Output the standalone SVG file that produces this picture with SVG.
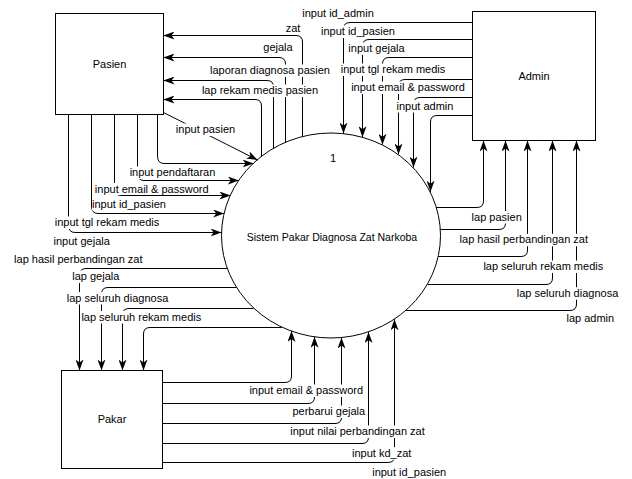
<svg xmlns="http://www.w3.org/2000/svg" width="632" height="479" viewBox="0 0 632 479">
<defs>
<style>
.node{fill:#fff;stroke:#000;stroke-width:1}
.edge{fill:none;stroke:#000;stroke-width:1;marker-end:url(#arr)}
.t{font-family:"Liberation Sans",Arial,Helvetica,sans-serif;font-size:11px;fill:#000;text-anchor:middle}
.bg{fill:#fff}
</style>
<marker id="arr" markerUnits="userSpaceOnUse" viewBox="0 0 11 8" refX="11" refY="4" markerWidth="11" markerHeight="8" orient="auto">
<path d="M0,0 L11,4 L0,8 L3,4 Z" fill="#000"/>
</marker>
</defs>
<rect width="632" height="479" fill="#fff"/>

<g id="pasien">
<rect class="node" x="55.5" y="13.5" width="108" height="101"/>
<text class="t" x="109.5" y="67.5">Pasien</text>
</g>
<g id="admin">
<rect class="node" x="472.5" y="11.5" width="123" height="129"/>
<text class="t" x="534" y="79.5">Admin</text>
</g>
<g id="pakar">
<rect class="node" x="61.5" y="370.5" width="101" height="98"/>
<text class="t" x="112" y="423">Pakar</text>
</g>
<g id="sistem">
<ellipse class="node" cx="331" cy="235.5" rx="109.5" ry="102.5"/>
<text class="t" x="333" y="162">1</text>
<text class="t" x="332" y="241" style="font-size:10.5px">Sistem Pakar Diagnosa Zat Narkoba</text>
</g>

<g id="connectors">
<path class="edge" d="M302.5,136.7 V42 Q302.5,35.5 296,35.5 H163.5"/>
<path class="edge" d="M285.5,142.5 V64 Q285.5,57.5 279,57.5 H163.5"/>
<path class="edge" d="M273.5,148.6 V87 Q273.5,80.5 267,80.5 H163.5"/>
<path class="edge" d="M261.5,156.7 V106 Q261.5,99.5 255,99.5 H163.5"/>
<path class="edge" d="M163.5,112.5 L257.6,160"/>
<path class="edge" d="M157.5,114.5 V156 Q157.5,163.5 164,163.5 H253.6"/>
<path class="edge" d="M137.5,114.5 V173 Q137.5,180.5 144,180.5 H238.9"/>
<path class="edge" d="M114.5,114.5 V188 Q114.5,195.5 121,195.5 H230.4"/>
<path class="edge" d="M91.5,114.5 V206 Q91.5,213.5 98,213.5 H224.2"/>
<path class="edge" d="M68.5,114.5 V225 Q68.5,232.5 75,232.5 H221.6"/>
<path class="edge" d="M227.2,268.5 H86 Q79.5,268.5 79.5,275 V370.5"/>
<path class="edge" d="M236.3,287.5 H108 Q101.5,287.5 101.5,294 V370.5"/>
<path class="edge" d="M253.6,308.5 H129 Q122.5,308.5 122.5,315 V370.5"/>
<path class="edge" d="M281.6,327.5 H150 Q143.5,327.5 143.5,334 V370.5"/>
<path class="edge" d="M162.5,382.5 H285 Q291.5,382.5 291.5,376 V330.9"/>
<path class="edge" d="M162.5,403.5 H308 Q314.5,403.5 314.5,397 V336.8"/>
<path class="edge" d="M162.5,423.5 H335 Q341.5,423.5 341.5,417 V337.6"/>
<path class="edge" d="M162.5,443.5 H362 Q368.5,443.5 368.5,437 V332"/>
<path class="edge" d="M162.5,462.5 H388 Q394.5,462.5 394.5,456 V319.3"/>
<path class="edge" d="M472.5,22.5 H350 Q343.5,22.5 343.5,29 V133.6"/>
<path class="edge" d="M472.5,39.5 H369 Q362.5,39.5 362.5,46 V137.2"/>
<path class="edge" d="M472.5,57.5 H389 Q382.5,57.5 382.5,64 V144.8"/>
<path class="edge" d="M472.5,79.5 H405 Q398.5,79.5 398.5,86 V154.4"/>
<path class="edge" d="M472.5,97.5 H420 Q413.5,97.5 413.5,104 V167.6"/>
<path class="edge" d="M472.5,115.5 H437 Q430.5,115.5 430.5,122 V191.7"/>
<path class="edge" d="M436.2,207.5 H477 Q483.5,207.5 483.5,201 V140.5"/>
<path class="edge" d="M440.3,229.5 H499 Q505.5,229.5 505.5,223 V140.5"/>
<path class="edge" d="M438.3,256.5 H521 Q527.5,256.5 527.5,250 V140.5"/>
<path class="edge" d="M427.5,284.5 H546 Q552.5,284.5 552.5,278 V140.5"/>
<path class="edge" d="M406.2,310.5 H570 Q576.5,310.5 576.5,304 V140.5"/>
</g>

<g id="edge-labels">
<rect class="bg" x="285" y="22.5" width="16" height="12.5"/><text class="t" x="293" y="32">zat</text>
<rect class="bg" x="262" y="41.5" width="31" height="12.5"/><text class="t" x="278" y="51">gejala</text>
<rect class="bg" x="210" y="64.5" width="120" height="12.5"/><text class="t" x="270" y="74">laporan diagnosa pasien</text>
<rect class="bg" x="201" y="84.5" width="118" height="12.5"/><text class="t" x="260" y="94">lap rekam medis pasien</text>
<rect class="bg" x="175" y="123.5" width="61" height="12.5"/><text class="t" x="205.5" y="133">input pasien</text>

<rect class="bg" x="301" y="7.5" width="74" height="12.5"/><text class="t" x="338" y="17">input id_admin</text>
<rect class="bg" x="320" y="25.5" width="76" height="12.5"/><text class="t" x="358" y="35">input id_pasien</text>
<rect class="bg" x="348" y="42.5" width="58" height="12.5"/><text class="t" x="376.5" y="52">input gejala</text>
<rect class="bg" x="340" y="63.5" width="107" height="12.5"/><text class="t" x="393" y="73">input tgl rekam medis</text>
<rect class="bg" x="350" y="81.5" width="116" height="12.5"/><text class="t" x="408" y="91">input email &amp; password</text>
<rect class="bg" x="396" y="100" width="58" height="12.5"/><text class="t" x="425" y="109.5">input admin</text>

<rect class="bg" x="129" y="166.5" width="87" height="12.5"/><text class="t" x="172.5" y="176">input pendaftaran</text>
<rect class="bg" x="94" y="183" width="115" height="12"/><text class="t" x="151.7" y="192.5">input email &amp; password</text>
<rect class="bg" x="92" y="198" width="75" height="12.5"/><text class="t" x="129" y="207.5">input id_pasien</text>
<rect class="bg" x="54" y="216.5" width="106" height="12.5"/><text class="t" x="107" y="226">input tgl rekam medis</text>
<rect class="bg" x="53" y="235" width="57" height="12.5"/><text class="t" x="81.7" y="244.5">input gejala</text>
<rect class="bg" x="13" y="253.5" width="131" height="12.5"/><text class="t" x="78.3" y="263">lap hasil perbandingan zat</text>
<rect class="bg" x="71" y="270.5" width="49" height="12.5"/><text class="t" x="95.8" y="280">lap gejala</text>
<rect class="bg" x="66" y="292" width="103" height="12.5"/><text class="t" x="117.5" y="301.5">lap seluruh diagnosa</text>
<rect class="bg" x="81" y="311" width="121" height="12.5"/><text class="t" x="141.3" y="320.5">lap seluruh rekam medis</text>

<rect class="bg" x="471" y="211" width="52" height="12.5"/><text class="t" x="496.7" y="220.5">lap pasien</text>
<rect class="bg" x="458" y="233.8" width="131" height="12.5"/><text class="t" x="523.8" y="243.3">lap hasil perbandingan zat</text>
<rect class="bg" x="482" y="260.5" width="122" height="12.5"/><text class="t" x="543.3" y="270">lap seluruh rekam medis</text>
<rect class="bg" x="516" y="287.2" width="103" height="12.5"/><text class="t" x="567.5" y="296.7">lap seluruh diagnosa</text>
<rect class="bg" x="566" y="312.2" width="49" height="12.5"/><text class="t" x="590.3" y="321.7">lap admin</text>

<rect class="bg" x="248" y="384.5" width="116" height="12.5"/><text class="t" x="306.3" y="394">input email &amp; password</text>
<rect class="bg" x="292" y="405.5" width="74" height="12.5"/><text class="t" x="328.8" y="415">perbarui gejala</text>
<rect class="bg" x="289" y="425.5" width="137" height="12.5"/><text class="t" x="357.5" y="435">input nilai perbandingan zat</text>
<rect class="bg" x="351" y="447.2" width="62" height="12.5"/><text class="t" x="381.7" y="456.7">input kd_zat</text>
<rect class="bg" x="371" y="466.5" width="77" height="12.5"/><text class="t" x="409.2" y="476">input id_pasien</text>
</g>
</svg>
